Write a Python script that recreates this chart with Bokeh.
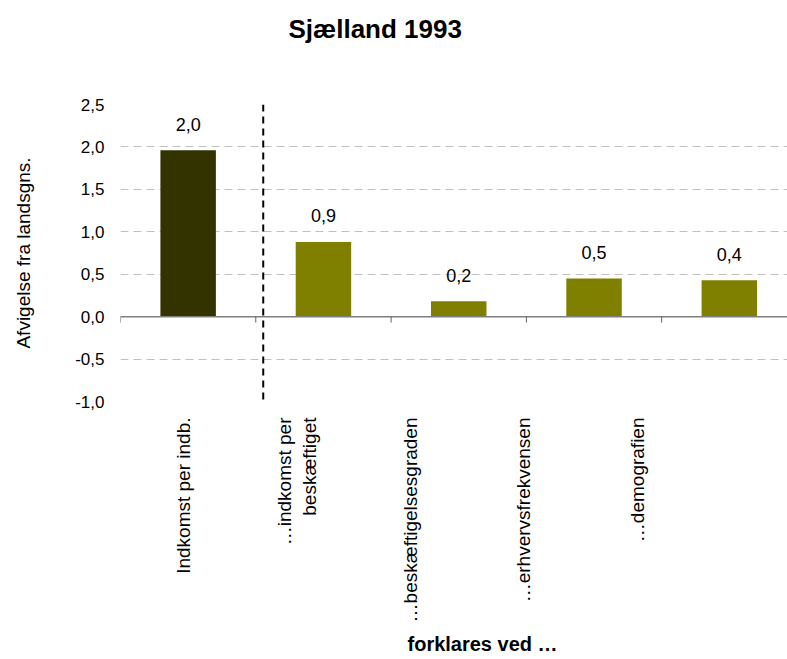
import math
from bokeh.plotting import figure
from bokeh.models import (Range1d, FixedTicker, LinearAxis, Span, Title, ColumnDataSource)
from bokeh.core.properties import value
from bokeh.embed import file_html
from bokeh.resources import INLINE

# ---- data ----
categories = ["Indkomst per indb.", "…indkomst per\nbeskæftiget", "…beskæftigelsesgraden",
              "…erhvervsfrekvensen", "…demografien"]
values = [1.96, 0.88, 0.18, 0.45, 0.43]
bar_colors = ["#333300", "#808000", "#808000", "#808000", "#808000"]
y_ticks = [-1.0, -0.5, 0.0, 0.5, 1.0, 1.5, 2.0, 2.5]
y_tick_labels = ["-1,0", "-0,5", "0,0", "0,5", "1,0", "1,5", "2,0", "2,5"]
title_text = "Sjælland 1993"
y_title = "Afvigelse fra landsgns."
x_title = "forklares ved …"

FONT = "Liberation Sans"
n = len(categories)
centers = [i + 0.5 for i in range(n)]
labels = [f"{v:.1f}".replace(".", ",") for v in values]

src = ColumnDataSource(dict(x=centers, top=values, color=bar_colors, label=labels))

p = figure(width=787, height=659, output_backend="svg", toolbar_location=None,
           x_range=Range1d(0, 4.93), y_range=Range1d(-1.0, 2.5),
           x_axis_location=None, min_border_left=120, min_border_right=0,
           min_border_top=104, min_border_bottom=257, title=None)
p.outline_line_color = None
p.background_fill_color = "white"
p.border_fill_color = "white"

# grid
p.xgrid.visible = False
p.ygrid.ticker = FixedTicker(ticks=y_ticks)
p.ygrid.grid_line_color = "#c0c0c0"
p.ygrid.grid_line_dash = "8 5"
p.ygrid.grid_line_width = 1

# y axis
ya = p.yaxis[0]
ya.ticker = FixedTicker(ticks=y_ticks)
ya.major_label_overrides = {t: l for t, l in zip(y_ticks, y_tick_labels)}
ya.axis_line_color = None
ya.major_tick_line_color = None
ya.minor_tick_line_color = None
ya.major_label_text_font = FONT
ya.major_label_text_font_size = "17px"
ya.major_label_text_color = "black"
ya.major_label_standoff = 10
ya.axis_label = y_title
ya.axis_label_text_font = FONT
ya.axis_label_text_font_style = "normal"
ya.axis_label_text_font_size = "19px"
ya.axis_label_text_color = "black"
ya.axis_label_standoff = 38

# bars
p.vbar(x="x", top="top", bottom=0, width=0.41, fill_color="color", line_color=None, source=src)

# zero line with category boundary ticks
p.segment(x0=[0], x1=[n], y0=[0], y1=[0], line_color="#808080", line_width=1.5)
bounds = list(range(n + 1))
p.segment(x0=bounds, x1=bounds, y0=[0] * len(bounds), y1=[-0.07] * len(bounds),
          line_color="#606060", line_width=1)

# divider
p.add_layout(Span(location=1.055, dimension="height", line_color="black",
                  line_width=2, line_dash="7 5"))

# data labels
p.text(x="x", y="top", text="label", source=src, text_align="center",
       text_baseline="alphabetic", y_offset=-26, text_font=value(FONT),
       text_font_size="18px", text_color="black")

# category label axis
p.extra_x_ranges = {"lab": Range1d(-0.055, 5.822)}
la = LinearAxis(x_range_name="lab")
la.ticker = FixedTicker(ticks=centers)
la.major_label_overrides = {c: t for c, t in zip(centers, categories)}
la.major_label_orientation = math.pi / 2
la.axis_line_color = None
la.major_tick_line_color = None
la.minor_tick_line_color = None
la.major_label_standoff = 10
la.major_label_text_font = FONT
la.major_label_text_font_size = "19px"
la.major_label_text_color = "black"
p.add_layout(la, "below")

# x title
p.add_layout(Title(text=x_title, align="left", offset=287, text_font=FONT,
                   text_font_size="20px", text_font_style="bold", text_color="black",
                   standoff=10), "below")

# spacer axis above the frame (one white, unlabeled tick), then the chart title
sp = LinearAxis(ticker=FixedTicker(ticks=[1.0]))
sp.major_label_overrides = {1.0: ""}
sp.major_label_standoff = 0
sp.axis_line_color = None
sp.major_tick_line_color = "white"
sp.minor_tick_line_color = None
sp.major_tick_in = 0
sp.major_tick_out = 56
p.add_layout(sp, "above")
p.add_layout(Title(text=title_text, align="left", offset=168, text_font=FONT,
                   text_font_size="26px", text_font_style="bold", text_color="black",
                   standoff=10), "above")

open("out.html", "w").write(file_html(p, INLINE))
